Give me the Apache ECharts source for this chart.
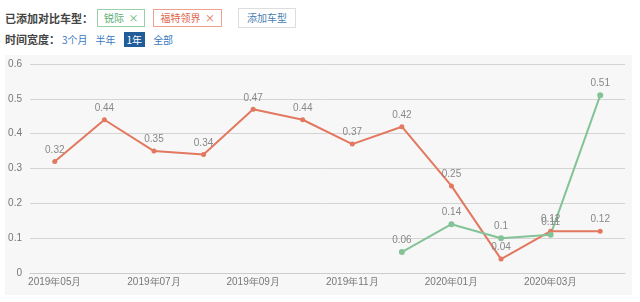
<!DOCTYPE html>
<html>
<head>
<meta charset="utf-8">
<script src="https://cdn.jsdelivr.net/npm/echarts@6/dist/echarts.min.js"></script>
<style>
    body { margin: 0; background: #fff; font-family: "Noto Sans CJK SC", sans-serif; width: 640px; height: 302px; overflow: hidden; position: relative; }
    .row { position: absolute; left: 5px; font-size: 11px; color: #444; display: flex; align-items: center; }
    .tag { border: 1px solid; padding: 0 6px; height: 16px; line-height: 16px; margin-left: 4px; font-size: 10px; }
    .btn { border: 1px solid #ddd; padding: 0 8px; height: 18px; line-height: 18px; margin-left: 16px; font-size: 10px; color: #4a7fb0; }
    .opt { color: #3a78c0; margin-right: 8px; font-size: 10px; }
    .cur { background: #1f5c99; color: #fff; padding: 0 3px; }
    #barChart { position: absolute; left: 5px; top: 55px; width: 627px; height: 240px; background: #f7f7f7; }
</style>
</head>
<body>
<!-- 对比车型 -->
<div class="row" style="top:8px;">
    <b style="font-weight:bold;">已添加对比车型：</b>
    <span class="tag" style="border-color:#9ad0a8;color:#5aae72;">锐际 &nbsp;×</span>
    <span class="tag" style="border-color:#f0a090;color:#e0644a;margin-left:8px;">福特领界 &nbsp;×</span>
    <span class="btn">添加车型</span>
</div>
<div class="row" style="top:31px;">
    <b style="font-weight:bold;margin-right:2px;">时间宽度：</b>
    <span class="opt">3个月</span>
    <span class="opt">半年</span>
    <span class="opt cur">1年</span>
    <span class="opt">全部</span>
</div>
<div id="barChart"></div>
<script>
var category = ["2019年05月", "2019年06月", "2019年07月", "2019年08月", "2019年09月", "2019年10月",
    "2019年11月", "2019年12月", "2020年01月", "2020年02月", "2020年03月", "2020年04月"];
var lingjie = [0.32, 0.44, 0.35, 0.34, 0.47, 0.44, 0.37, 0.42, 0.25, 0.04, 0.12, 0.12];
var ruiji = [null, null, null, null, null, null, null, 0.06, 0.14, 0.1, 0.11, 0.51];

var myChart = echarts.init(document.getElementById("barChart"));
var labelStyle = { show: true, position: "top", color: "#888", fontSize: 10, distance: 4 };
var options = {
    grid: { left: 25, right: 7, top: 9, bottom: 22 },
    xAxis: {
        type: "category",
        data: category,
        boundaryGap: true,
        axisLine: { lineStyle: { color: "#ccc" } },
        axisTick: { show: false },
        axisLabel: { color: "#777", fontSize: 10, interval: 1, margin: 4 },
    },
    yAxis: {
        type: "value",
        min: 0,
        max: 0.6,
        interval: 0.1,
        axisLabel: { color: "#777", fontSize: 10, margin: 8 },
        splitLine: { lineStyle: { color: "#d4d4d4" } },
        axisLine: { show: false },
        axisTick: { show: false },
    },
    series: [
        {
            name: "福特领界",
            type: "line",
            data: lingjie,
            symbol: "circle",
            symbolSize: 5,
            itemStyle: { color: "#e2785f" },
            lineStyle: { width: 2 },
            label: labelStyle,
        },
        {
            name: "锐际",
            type: "line",
            data: ruiji,
            symbol: "circle",
            symbolSize: 6,
            itemStyle: { color: "#84c396" },
            lineStyle: { width: 2 },
            label: labelStyle,
        },
    ],
};
myChart.setOption(options);
</script>
</body>
</html>
